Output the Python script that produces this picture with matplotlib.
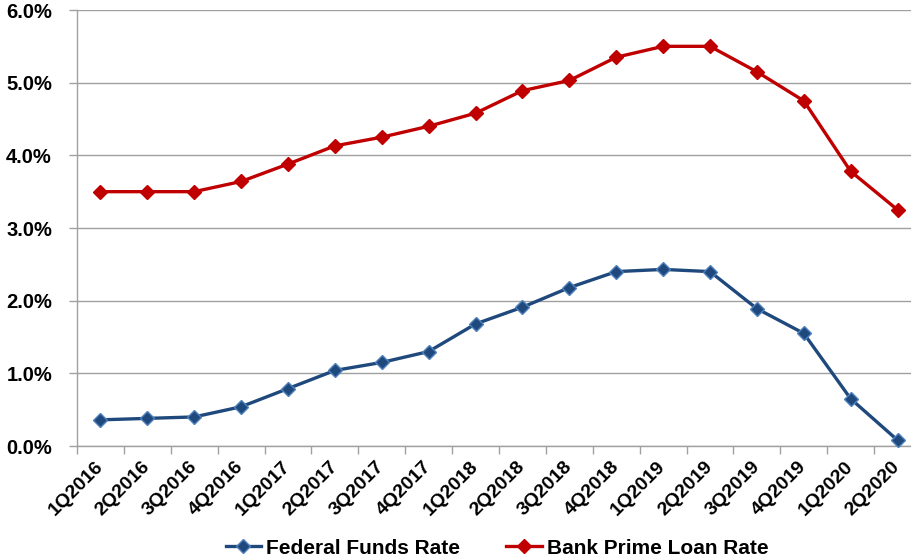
import matplotlib
matplotlib.use("Agg")
import matplotlib.pyplot as plt
from matplotlib.ticker import FuncFormatter, FixedLocator
import numpy as np

quarters = ["1Q2016", "2Q2016", "3Q2016", "4Q2016", "1Q2017", "2Q2017", "3Q2017", "4Q2017",
            "1Q2018", "2Q2018", "3Q2018", "4Q2018", "1Q2019", "2Q2019", "3Q2019", "4Q2019",
            "1Q2020", "2Q2020"]
fed_funds = [0.36, 0.38, 0.40, 0.54, 0.79, 1.04, 1.15, 1.30, 1.68, 1.91, 2.18, 2.40,
             2.43, 2.40, 1.89, 1.55, 0.65, 0.08]
prime_rate = [3.50, 3.50, 3.50, 3.64, 3.88, 4.13, 4.25, 4.40, 4.58, 4.89, 5.03, 5.35,
              5.50, 5.50, 5.15, 4.75, 3.78, 3.25]
y_ticks = [0, 1, 2, 3, 4, 5, 6]

plt.rcParams['font.family'] = ['Liberation Sans', 'DejaVu Sans']

fig = plt.figure(figsize=(9.11, 5.6), dpi=100)
W, H = 911, 560
left, right, top, bottom = 77, 921, 10, 446
ax = fig.add_axes([left / W, 1 - bottom / H, (right - left) / W, (bottom - top) / H])

x = np.arange(len(quarters))
grid_c = "#A0A0A0"

ax.plot(x, fed_funds, color="#1F497D", lw=2.4, marker="D", ms=7,
        mfc="#1F497D", mec="#4F81BD", mew=1.0, label="Federal Funds Rate", zorder=3, clip_on=False)
ax.plot(x, prime_rate, color="#C00000", lw=2.4, marker="D", ms=7,
        mfc="#C00000", mec="#C00000", mew=1.0, label="Bank Prime Loan Rate", zorder=3, clip_on=False)

ax.set_xlim(-0.5, len(quarters) - 0.5)
ax.set_ylim(0, 6)
ax.set_yticks(y_ticks)
ax.yaxis.set_major_formatter(FuncFormatter(lambda v, p: f"{v:.1f}%"))
ax.grid(axis="y", color=grid_c, lw=1.0)
ax.set_axisbelow(True)

ax.set_xticks(x)
ax.set_xticklabels(quarters, rotation=45, ha="right", va="center", rotation_mode="anchor",
                   fontsize=14, fontweight="bold")
ax.xaxis.set_minor_locator(FixedLocator(np.arange(-0.5, len(quarters), 1)))
ax.tick_params(axis="x", which="major", length=0, pad=13)
ax.tick_params(axis="x", which="minor", length=6, color=grid_c, width=1)
ax.tick_params(axis="y", length=6, color=grid_c, width=1, labelsize=14.5, pad=12)
for lab in ax.get_yticklabels():
    lab.set_fontweight("bold")

for s in ["top", "right"]:
    ax.spines[s].set_visible(False)
for s in ["left", "bottom"]:
    ax.spines[s].set_color(grid_c)
    ax.spines[s].set_linewidth(1.0)

leg = fig.legend(loc="center", bbox_to_anchor=(497 / W, 1 - 548 / H), ncol=2, frameon=False,
                 prop={"size": 15, "weight": "bold"}, handlelength=1.7, columnspacing=2.2,
                 handletextpad=0.25)

fig.savefig("out.png", dpi=100)
